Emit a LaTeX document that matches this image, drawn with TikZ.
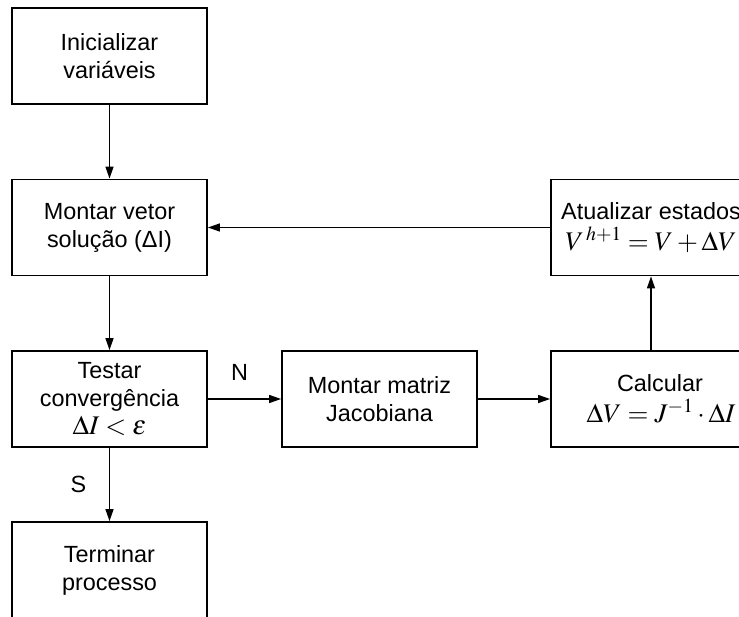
\documentclass[tikz,border=0pt]{standalone}
\usepackage{mathptmx}
\usepackage{fontspec}
\setmainfont{Liberation Sans}
\usetikzlibrary{arrows.meta}
\newcommand{\mathline}[1]{{\fontsize{27}{30}\selectfont$#1$}}
\begin{document}
\begin{tikzpicture}[x=1bp,y=-1bp,
  blk/.style={draw, line width=1.8bp, minimum width=195bp, minimum height=96bp, inner sep=0pt, align=center, font=\fontsize{23.5}{28}\selectfont},
  conn/.style={line width=1.4bp, -{Triangle[length=12bp,width=8bp]}},
  lbl/.style={font=\fontsize{23.5}{28}\selectfont, inner sep=0pt}]
\useasboundingbox (0,0) rectangle (739,617);
\clip (0,0) rectangle (739,617);
\node[blk] (A) at (109.5,56) {Inicializar\\variáveis};
\node[blk] (B) at (109.5,227.5) {Montar vetor\\solução (ΔI)};
\node[blk] (C) at (109.5,399) {Testar\\convergência\\[1bp]\mathline{\Delta I < \varepsilon}};
\node[blk] (D) at (109.5,570) {Terminar\\processo};
\node[blk] (E) at (379.5,399) {Montar matriz\\Jacobiana};
\node[blk, minimum width=200bp] (F) at (651,399) {\hspace*{18bp}Calcular\\[3bp]\hspace*{20bp}\mathline{\Delta V = J^{-1}\cdot \Delta I}};
\node[blk, minimum width=200bp] (G) at (651,227.5) {Atualizar estados\\[3bp]\mathline{V^{\,h+1} = V + \Delta V}};
\draw[conn] (A) -- (B);
\draw[conn] (B) -- (C);
\draw[conn] (C) -- node[lbl, xshift=-31bp] {S} (D);
\draw[conn] (C) -- node[lbl, xshift=-5bp, yshift=27bp] {N} (E);
\draw[conn] (E) -- (F);
\draw[conn] (F) -- (G);
\draw[conn] (G) -- (B);
\end{tikzpicture}
\end{document}
